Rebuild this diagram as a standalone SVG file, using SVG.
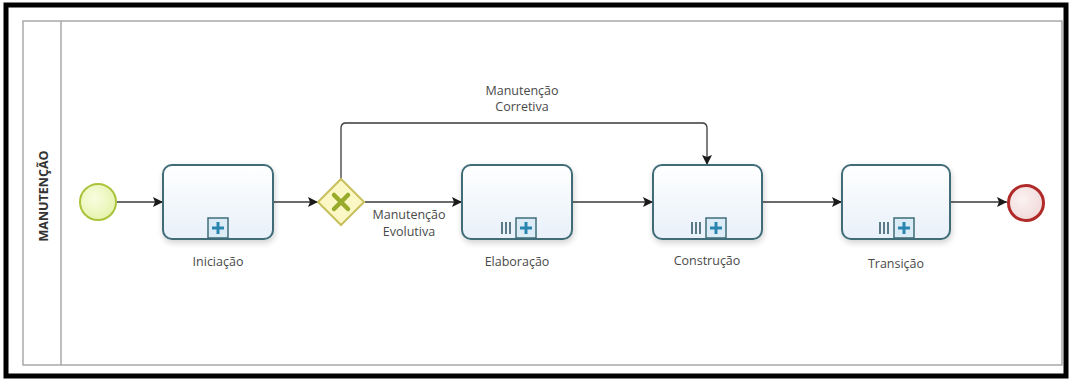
<svg xmlns="http://www.w3.org/2000/svg" width="1071" height="381" viewBox="0 0 1071 381">
<defs>
<linearGradient id="tg" x1="0" y1="0" x2="0" y2="1"><stop offset="0" stop-color="#ffffff"/><stop offset="1" stop-color="#e8f0f9"/></linearGradient>
<radialGradient id="sg" cx="0.4" cy="0.4" r="0.7"><stop offset="0" stop-color="#f8fde0"/><stop offset="1" stop-color="#e4f2a8"/></radialGradient>
<radialGradient id="eg" cx="0.4" cy="0.4" r="0.7"><stop offset="0" stop-color="#fbf2f2"/><stop offset="1" stop-color="#f0d6d6"/></radialGradient>
<filter id="sh" x="-20%" y="-20%" width="140%" height="150%"><feGaussianBlur in="SourceAlpha" stdDeviation="3"/><feOffset dx="1" dy="3"/><feComponentTransfer><feFuncA type="linear" slope="0.18"/></feComponentTransfer><feMerge><feMergeNode/><feMergeNode in="SourceGraphic"/></feMerge></filter>
<marker id="ah" viewBox="0 0 10 10" refX="10" refY="5" markerWidth="10" markerHeight="10" markerUnits="userSpaceOnUse" orient="auto"><path d="M0,0 L10,5 L0,10 L2,5 Z" fill="#1a1a1a"/></marker>
</defs>
<style>
.task{fill:url(#tg);stroke:#3f6c78;stroke-width:2}
.sq{fill:#dcecf6;stroke:#3f6c78;stroke-width:1.5}
.plus{stroke:#2a86b0;stroke-width:3;fill:none}
.bars{stroke:#4a6e7a;stroke-width:1.8}
.lbl{font-family:"Open Sans","Noto Sans",sans-serif;font-size:12.5px;fill:#4a4a4a;text-anchor:middle}
.flow{fill:none;stroke:#3a3a3a;stroke-width:1.3;marker-end:url(#ah)}
</style>
<rect x="0" y="0" width="1071" height="381" fill="#ffffff"/>
<rect x="6" y="5" width="1060" height="371" fill="none" stroke="#000" stroke-width="5"/>
<g id="pool">
<rect x="23" y="21" width="1039" height="344" fill="#ffffff" stroke="#a9a9a9" stroke-width="1.5"/>
<line x1="61" y1="21" x2="61" y2="365" stroke="#a9a9a9" stroke-width="1.5"/>
<text x="43" y="196" transform="rotate(-90 43 196)" font-family="'Open Sans','Noto Sans',sans-serif" font-size="12.5" font-weight="bold" fill="#333" text-anchor="middle" dominant-baseline="central">MANUTENÇÃO</text>
</g>
<g id="connectors">
<line class="flow" x1="117" y1="202" x2="163" y2="202"/>
<line class="flow" x1="273" y1="202" x2="318" y2="202"/>
<line class="flow" x1="365" y1="202" x2="462" y2="202"/>
<path class="flow" d="M341,179 V128 Q341,123 346,123 H702 Q707,123 707,128 V165"/>
<line class="flow" x1="572" y1="202" x2="653" y2="202"/>
<line class="flow" x1="762" y1="202" x2="842" y2="202"/>
<line class="flow" x1="950" y1="202" x2="1007" y2="202"/>
<text class="lbl" x="522" y="95">Manutenção</text>
<text class="lbl" x="522" y="111">Corretiva</text>
<text class="lbl" x="409" y="219">Manutenção</text>
<text class="lbl" x="409" y="236">Evolutiva</text>
</g>
<g id="start">
<circle cx="98" cy="202" r="18" fill="url(#sg)" stroke="#a9c43a" stroke-width="2"/>
</g>
<g id="iniciacao">
<rect class="task" x="163" y="165" width="110" height="74" rx="9" filter="url(#sh)"/>
<rect class="sq" x="208" y="218" width="20" height="20"/>
<path class="plus" d="M218,222 V234 M212,228 H224"/>
<text class="lbl" x="218" y="266">Iniciação</text>
</g>
<g id="gateway">
<path d="M341,179 L364,202 L341,225 L318,202 Z" fill="#fbf8c6" stroke="#c8bf5c" stroke-width="2"/>
<path d="M334,195 L348,209 M348,195 L334,209" stroke="#98ab2a" stroke-width="4.5" stroke-linecap="round"/>
</g>
<g id="elaboracao">
<rect class="task" x="462" y="165" width="110" height="74" rx="9" filter="url(#sh)"/>
<path class="bars" d="M502,222 V234 M506,222 V234 M510,222 V234"/>
<rect class="sq" x="516" y="218" width="20" height="20"/>
<path class="plus" d="M526,222 V234 M520,228 H532"/>
<text class="lbl" x="517" y="266">Elaboração</text>
</g>
<g id="construcao">
<rect class="task" x="653" y="165" width="109" height="74" rx="9" filter="url(#sh)"/>
<path class="bars" d="M692,222 V234 M696,222 V234 M700,222 V234"/>
<rect class="sq" x="706" y="218" width="20" height="20"/>
<path class="plus" d="M716,222 V234 M710,228 H722"/>
<text class="lbl" x="707" y="265">Construção</text>
</g>
<g id="transicao">
<rect class="task" x="842" y="165" width="108" height="74" rx="9" filter="url(#sh)"/>
<path class="bars" d="M880,222 V234 M884,222 V234 M888,222 V234"/>
<rect class="sq" x="894" y="218" width="20" height="20"/>
<path class="plus" d="M904,222 V234 M898,228 H910"/>
<text class="lbl" x="896" y="268">Transição</text>
</g>
<g id="end">
<circle cx="1026" cy="203" r="17.5" fill="url(#eg)" stroke="#b02a2a" stroke-width="3"/>
</g>
</svg>
